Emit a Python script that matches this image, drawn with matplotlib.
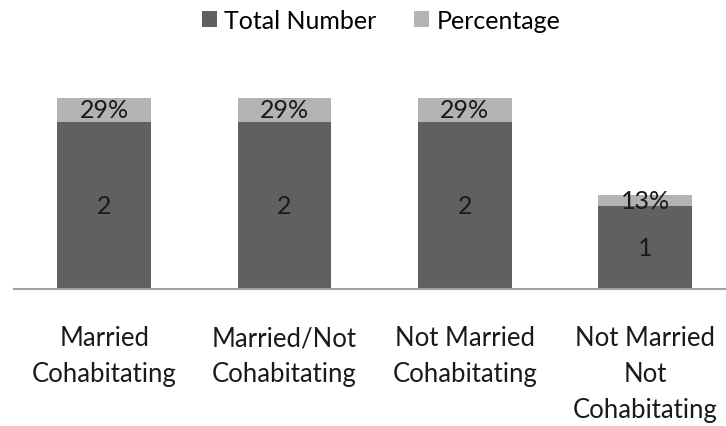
import matplotlib
matplotlib.use("Agg")
import matplotlib.pyplot as plt

# данные
categories = ["Married\nCohabitating", "Married/Not\nCohabitating",
              "Not Married\nCohabitating", "Not Married\nNot\nCohabitating"]
total_number = [2, 2, 2, 1]
percentage = [0.29, 0.29, 0.29, 0.13]
pct_labels = ["29%", "29%", "29%", "13%"]

DARK = "#606060"
LIGHT = "#b3b3b3"

plt.rcParams["font.family"] = ["Lato", "DejaVu Sans"]

fig = plt.figure(figsize=(7.26, 4.27), dpi=100, facecolor="white")
ax = fig.add_axes([14 / 726, 1 - 290 / 427, 1 - 14 / 726, 230 / 427])

x = list(range(len(categories)))
b1 = ax.bar(x, total_number, width=0.52, color=DARK, label="Total Number")
b2 = ax.bar(x, percentage, width=0.52, bottom=total_number, color=LIGHT, label="Percentage")

for i in x:
    ax.text(i, total_number[i] / 2, str(total_number[i]), ha="center", va="center",
            fontsize=18, color="#1a1a1a")
    ax.text(i, total_number[i] + percentage[i] / 2, pct_labels[i], ha="center", va="center",
            fontsize=18, color="#1a1a1a")

ax.set_xlim(-0.5, -0.5 + 712 / 180.3)
ax.set_ylim(0, 230 / 83.5)
ax.set_xticks(x)
ax.set_xticklabels(categories, fontsize=18.5, color="#1a1a1a", linespacing=1.55)
ax.tick_params(axis="x", length=0, pad=26)
ax.set_yticks([])
for s in ["top", "right", "left"]:
    ax.spines[s].set_visible(False)
ax.spines["bottom"].set_color("#a0a0a0")
ax.spines["bottom"].set_linewidth(1.5)

fig.legend(handles=[b1, b2], loc="upper center", bbox_to_anchor=(0.525, 1.03), ncol=2,
           frameon=False, fontsize=18, handlelength=0.6, handleheight=0.6,
           handletextpad=0.3, columnspacing=1.5)

plt.savefig("out.png", dpi=100, facecolor="white")
